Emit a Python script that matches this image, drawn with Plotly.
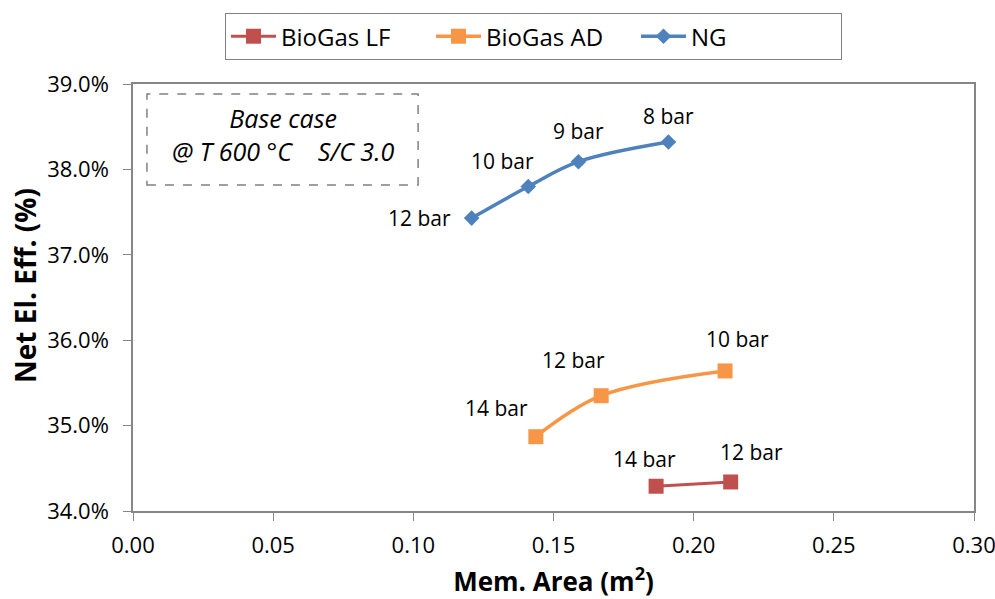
import plotly.graph_objects as go

# Data (membrane area in m², net electric efficiency in %)
lf_area = [0.1866, 0.2132]
lf_eff = [34.29, 34.34]
lf_labels = ["14 bar", "12 bar"]

ad_area = [0.1437, 0.1670, 0.2112]
ad_eff = [34.87, 35.35, 35.64]
ad_labels = ["14 bar", "12 bar", "10 bar"]

ng_area = [0.1208, 0.1410, 0.1589, 0.1910]
ng_eff = [37.43, 37.80, 38.09, 38.32]
ng_labels = ["12 bar", "10 bar", "9 bar", "8 bar"]

x_ticks = [0.00, 0.05, 0.10, 0.15, 0.20, 0.25, 0.30]
x_ticktext = [f"{v:.2f}" for v in x_ticks]
y_ticks = [34.0, 35.0, 36.0, 37.0, 38.0, 39.0]
y_ticktext = [f"{v:.1f}%" for v in y_ticks]

FONT = "Open Sans"
C_LF = "#C0504D"
C_AD = "#F79646"
C_NG = "#4F81BD"

fig = go.Figure()
fig.add_trace(go.Scatter(x=lf_area, y=lf_eff, name="BioGas LF", mode="lines+markers",
                         line=dict(color=C_LF, width=3, shape="spline"),
                         marker=dict(symbol="square", size=15, color=C_LF)))
fig.add_trace(go.Scatter(x=ad_area, y=ad_eff, name="BioGas AD", mode="lines+markers",
                         line=dict(color=C_AD, width=3.5, shape="spline"),
                         marker=dict(symbol="square", size=15, color=C_AD)))
fig.add_trace(go.Scatter(x=ng_area, y=ng_eff, name="NG", mode="lines+markers",
                         line=dict(color=C_NG, width=3.5, shape="spline"),
                         marker=dict(symbol="diamond", size=12, color=C_NG)))

# label offsets (pixels)
lf_off = [(-12, 27), (21, 30)]
ad_off = [(-39, 29), (-28, 36), (12, 32)]
ng_off = [(-52, 0), (-26, 25), (0, 31), (0, 26)]

for xs, ys, labs, offs in [(lf_area, lf_eff, lf_labels, lf_off),
                           (ad_area, ad_eff, ad_labels, ad_off),
                           (ng_area, ng_eff, ng_labels, ng_off)]:
    for xv, yv, lab, (dx, dy) in zip(xs, ys, labs, offs):
        fig.add_annotation(x=xv, y=yv, xref="x", yref="y", text=lab, showarrow=False,
                           xanchor="center", yanchor="middle",
                           xshift=dx, yshift=dy, font=dict(family=FONT, size=21, color="#000"))

# dashed info box
fig.add_shape(type="rect", xref="paper", yref="paper", x0=0.0166, x1=0.339, y0=0.7635, y1=0.9766,
              line=dict(color="#808080", width=1.5, dash="dash"), fillcolor="rgba(0,0,0,0)")
fig.add_annotation(xref="paper", yref="paper", x=0.1778, y=0.8817, showarrow=False,
                   xanchor="center", yanchor="middle",
                   text="<i>Base case</i><br><i>@ T 600 °C&nbsp;&nbsp;&nbsp; S/C 3.0</i>",
                   font=dict(family=FONT, size=25, color="#000"), align="center")

# y axis title as rotated text
fig.add_annotation(xref="paper", yref="paper", x=-0.1284, y=0.527, showarrow=False,
                   xanchor="center", yanchor="middle", textangle=-90,
                   text="<b>Net El. Eff. (%)</b>", font=dict(family=FONT, size=28, color="#000"))

axis_common = dict(showgrid=False, zeroline=False, showline=True, linecolor="#868686", linewidth=1.5,
                   mirror=True, ticks="outside", tickcolor="#868686", ticklen=8, automargin=False,
                   ticklabeloverflow="allow",
                   tickfont=dict(family=FONT, size=22, color="#000"))

fig.update_xaxes(range=[0, 0.30], tickvals=x_ticks, ticktext=x_ticktext, ticklabelstandoff=6,
                 title=dict(text="<b>Mem. Area (m<sup>2</sup>)</b>", font=dict(family=FONT, size=26, color="#000"), standoff=20),
                 **axis_common)
fig.update_yaxes(range=[34, 39], tickvals=y_ticks, ticktext=y_ticktext, ticklabelstandoff=10,
                 **axis_common)

fig.update_layout(
    width=995, height=599,
    margin=dict(l=133, r=21, t=84, b=88, autoexpand=False),
    paper_bgcolor="white", plot_bgcolor="white",
    showlegend=True,
    legend=dict(orientation="h", x=0.1094, xanchor="left", y=1.166, yanchor="top",
                bordercolor="#808080", borderwidth=1, bgcolor="white",
                font=dict(family=FONT, size=24, color="#000"), itemwidth=45,
                entrywidthmode="pixels", entrywidth=145),
    font=dict(family=FONT),
)

fig.write_html("out.html")
